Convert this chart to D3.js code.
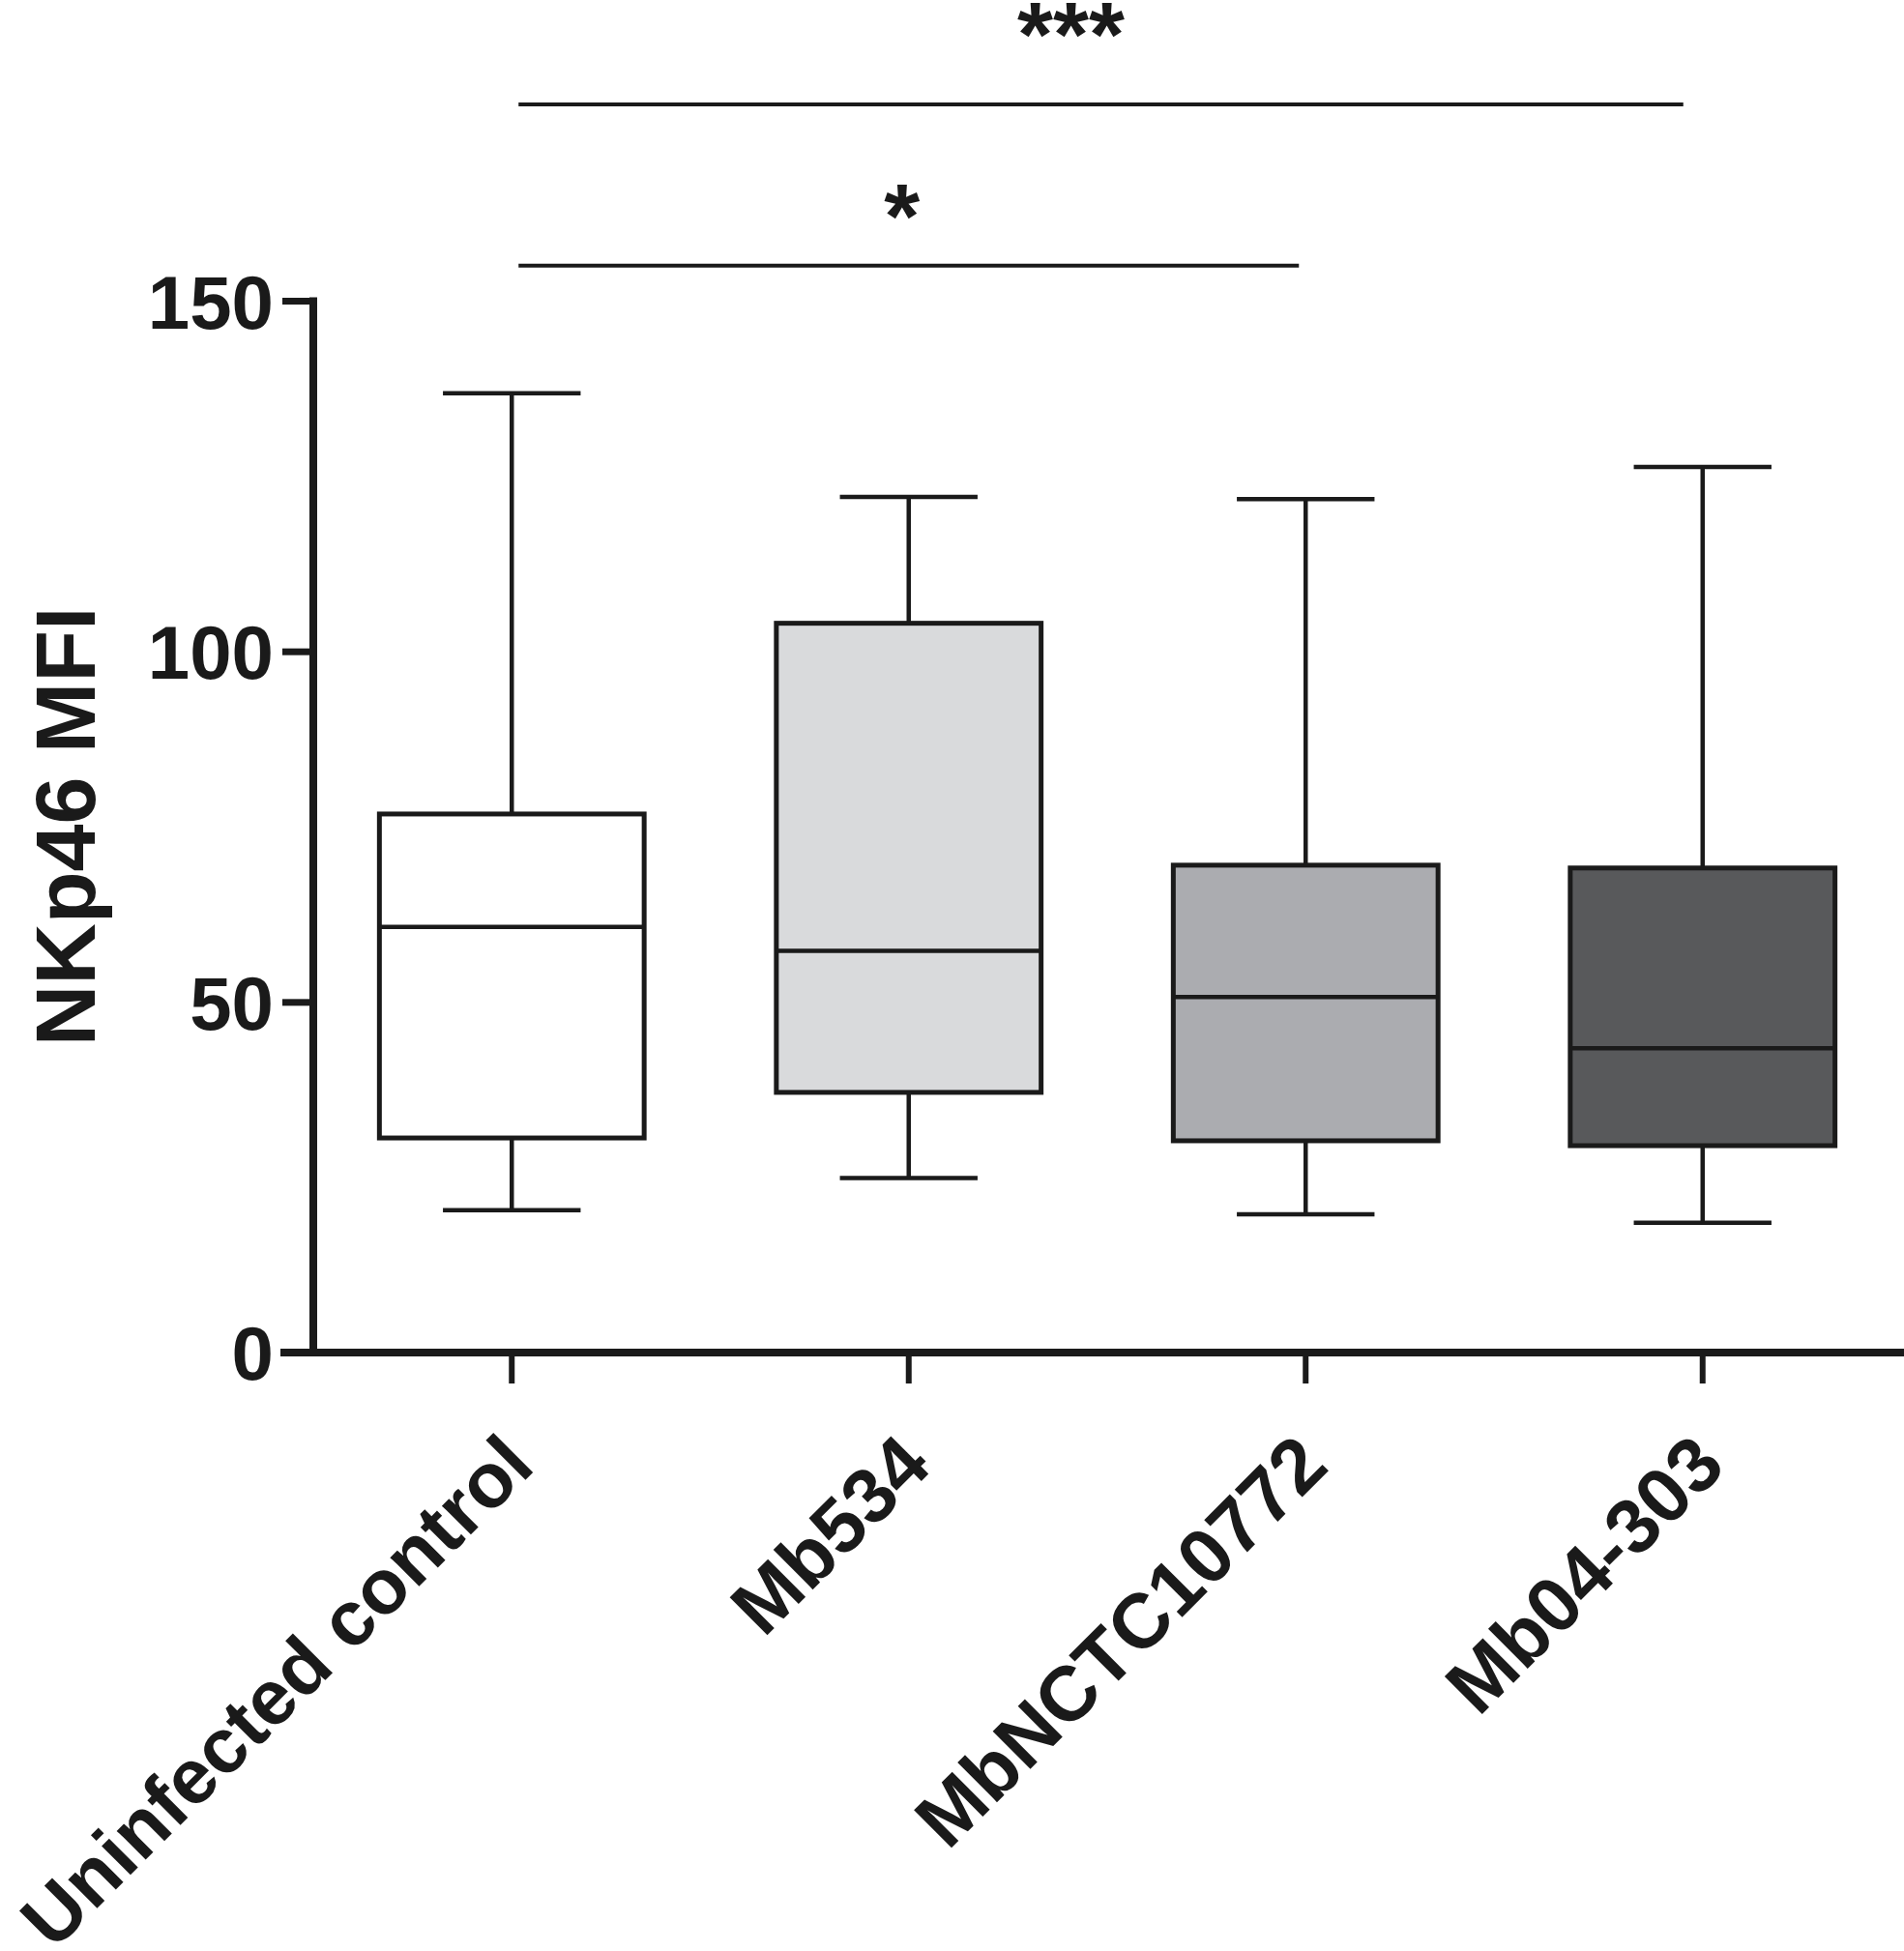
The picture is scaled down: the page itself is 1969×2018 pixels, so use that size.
<!DOCTYPE html>
<html>
<head>
<meta charset="utf-8">
<script src="https://cdn.jsdelivr.net/npm/d3@7"></script>
<style>
  html, body { margin: 0; padding: 0; background: #ffffff; }
  svg { display: block; }
  text { font-family: "Liberation Sans", Arial, Helvetica, sans-serif; font-weight: bold; fill: #1a1a1a; }
</style>
</head>
<body>
<script>
// ---- data ----
const categories = ["Uninfected control", "Mb534", "MbNCTC10772", "Mb04-303"];
const whiskerMin = [20.3, 24.9, 19.7, 18.5];
const q1Values   = [30.6, 37.1, 30.2, 29.5];
const medians    = [60.7, 57.3, 50.7, 43.4];
const q3Values   = [76.8, 104.0, 69.5, 69.1];
const whiskerMax = [136.8, 122.0, 121.7, 126.3];
const boxColors  = ["#ffffff", "#d9dadc", "#abacb0", "#58595b"];
const yTicks = [0, 50, 100, 150];
const yLabel = "NKp46 MFI";
// significance comparisons
const compFrom   = [0, 0];
const compTo     = [2, 3];
const compLevel  = [155, 178];
const compLabels = ["*", "***"];

// ---- layout ----
const W = 1969, H = 2018;
const axisX = 324, axisY = 1399, topY = 311;
const ink = "#1a1a1a";

const svg = d3.select("body").append("svg").attr("width", W).attr("height", H);

const x = d3.scaleBand().domain(categories).range([axisX, 1966]).paddingInner(0).paddingOuter(0);
const y = d3.scaleLinear().domain([0, 150]).range([axisY, topY]);

const boxW = x.bandwidth() * 0.667;
const capW = boxW * 0.52;
const cx = c => x(c) + x.bandwidth() / 2;

// ---- boxes ----
const rows = categories.map((c, i) => ({
  c, i, min: whiskerMin[i], q1: q1Values[i], med: medians[i], q3: q3Values[i], max: whiskerMax[i], fill: boxColors[i]
}));

const g = svg.append("g");
const bx = g.selectAll("g.box").data(rows).enter().append("g").attr("class", "box");

// whiskers
bx.append("line").attr("x1", d => cx(d.c)).attr("x2", d => cx(d.c))
  .attr("y1", d => y(d.max)).attr("y2", d => y(d.q3)).attr("stroke", ink).attr("stroke-width", 4.5);
bx.append("line").attr("x1", d => cx(d.c)).attr("x2", d => cx(d.c))
  .attr("y1", d => y(d.q1)).attr("y2", d => y(d.min)).attr("stroke", ink).attr("stroke-width", 4.5);
bx.append("line").attr("x1", d => cx(d.c) - capW / 2).attr("x2", d => cx(d.c) + capW / 2)
  .attr("y1", d => y(d.max)).attr("y2", d => y(d.max)).attr("stroke", ink).attr("stroke-width", 4.5);
bx.append("line").attr("x1", d => cx(d.c) - capW / 2).attr("x2", d => cx(d.c) + capW / 2)
  .attr("y1", d => y(d.min)).attr("y2", d => y(d.min)).attr("stroke", ink).attr("stroke-width", 4.5);
// box
bx.append("rect").attr("x", d => cx(d.c) - boxW / 2).attr("width", boxW)
  .attr("y", d => y(d.q3)).attr("height", d => y(d.q1) - y(d.q3))
  .attr("fill", d => d.fill).attr("stroke", ink).attr("stroke-width", 5);
// median
bx.append("line").attr("x1", d => cx(d.c) - boxW / 2).attr("x2", d => cx(d.c) + boxW / 2)
  .attr("y1", d => y(d.med)).attr("y2", d => y(d.med)).attr("stroke", ink).attr("stroke-width", 4.5);

// ---- y axis ----
const yAxis = d3.axisLeft(y).tickValues(yTicks.filter(t => t > 0)).tickSize(32).tickPadding(9).tickFormat(d3.format("d"));
const yg = svg.append("g").attr("transform", `translate(${axisX},0)`).call(yAxis);
yg.select(".domain").remove();
yg.selectAll(".tick line").attr("stroke", ink).attr("stroke-width", 7);
yg.selectAll(".tick text").style("font-size", "78px").attr("fill", ink).attr("dy", "0.36em");
// y axis line
svg.append("line").attr("x1", axisX).attr("x2", axisX).attr("y1", y(150) - 3.5).attr("y2", axisY)
  .attr("stroke", ink).attr("stroke-width", 8);
// 0 label
svg.append("text").attr("x", axisX - 41).attr("y", y(0)).attr("dy", "0.36em")
  .attr("text-anchor", "end").style("font-size", "78px").attr("fill", ink).text(d3.format("d")(yTicks[0]));

// ---- x axis ----
const xAxis = d3.axisBottom(x).tickSize(32).tickFormat("");
const xg = svg.append("g").attr("transform", `translate(0,${axisY})`).call(xAxis);
xg.select(".domain").remove();
xg.selectAll(".tick line").attr("stroke", ink).attr("stroke-width", 6);
svg.append("line").attr("x1", axisX - 34).attr("x2", W).attr("y1", axisY).attr("y2", axisY)
  .attr("stroke", ink).attr("stroke-width", 8);

// x labels (rotated)
svg.selectAll("text.xlab").data(categories).enter().append("text").attr("class", "xlab")
  .attr("text-anchor", "end")
  .attr("transform", d => `translate(${cx(d) + 26},${axisY + 120}) rotate(-45)`)
  .style("font-size", "80px").attr("fill", ink).text(d => d);

// y label
svg.append("text").attr("text-anchor", "middle")
  .attr("transform", `translate(98,${(y(0) + y(150)) / 2}) rotate(-90)`)
  .style("font-size", "88px").attr("fill", ink).text(yLabel);

// ---- significance brackets ----
const labelOffset = [19, 40];
compFrom.forEach((f, i) => {
  const x1 = cx(categories[f]) + 7;
  const x2 = cx(categories[compTo[i]]) - (i === 0 ? 7 : 20);
  const ly = y(compLevel[i]);
  svg.append("line").attr("x1", x1).attr("x2", x2).attr("y1", ly).attr("y2", ly)
    .attr("stroke", ink).attr("stroke-width", 4);
  svg.append("text").attr("x", (x1 + x2) / 2 - (i === 0 ? 7 : 31)).attr("y", ly - labelOffset[i])
    .attr("text-anchor", "middle").style("font-size", "95px").attr("fill", ink).text(compLabels[i]);
});
</script>
</body>
</html>
